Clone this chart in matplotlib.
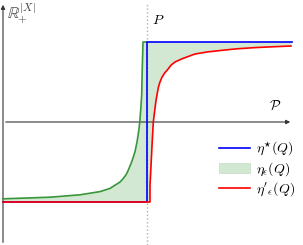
import matplotlib.pyplot as plt
from matplotlib.lines import Line2D
from matplotlib.patches import Patch

plt.rcParams['mathtext.fontset'] = 'cm'

# ---------- Data (x relative to P, y in units of the step height) ----------
green_x = [-144, -120, -97, -67, -57, -47, -37, -32, -27, -24, -21, -19, -16, -14,
           -12, -10, -8.5, -7.2, -6.2, -5.3, -4.8, -4.0, 0.0]
green_y = [-0.96, -0.95, -0.94, -0.91, -0.89, -0.87, -0.83, -0.79, -0.75, -0.71, -0.66,
           -0.61, -0.52, -0.45, -0.37, -0.25, -0.13, 0.0, 0.17, 0.34, 0.65, 1.0, 1.0]

red_x = [-144, 3.0, 3.0, 3.6, 4.3, 5.2, 6.3, 7.8, 9.0, 10.3, 11.5, 13.0, 15.0, 17.5,
         20.3, 24, 28, 35, 48, 60, 78, 90, 108, 125, 144]
red_y = [-1.0, -1.0, -0.79, -0.65, -0.475, -0.25, 0.0, 0.15, 0.27, 0.36, 0.44, 0.5,
         0.56, 0.61, 0.65, 0.71, 0.75, 0.79, 0.85, 0.875, 0.90, 0.915, 0.93, 0.94, 0.95]

blue_x = [-144, 0.0, 0.0, 145]
blue_y = [-1.0, -1.0, 1.0, 1.0]

labels = [r'$\eta^{\star}(Q)$', r'$\eta_{\epsilon}(Q)$', r"$\eta'_{\epsilon}(Q)$"]

# ---------- Plotting ----------
fig = plt.figure(figsize=(3.03, 2.45), dpi=100)
ax = fig.add_axes([0, 0, 1, 1])
ax.set_xlim(-147, 156)
ax.set_ylim(-1.5375, 1.525)
ax.axis('off')

c_green = '#3a963a'
c_fill = '#d3e8d3'

# shaded region between green (top) and red (bottom)
poly_x = green_x + [145] + red_x[::-1]
poly_y = green_y + [1.0] + red_y[::-1]
ax.fill(poly_x, poly_y, color=c_fill, lw=0, zorder=1)

# axes with arrows
ax.annotate('', xy=(-144, 1.5), xytext=(-144, -1.54),
            arrowprops=dict(arrowstyle='-|>', color='#333333', lw=0.8, mutation_scale=6))
ax.annotate('', xy=(146, 0), xytext=(-144, 0),
            arrowprops=dict(arrowstyle='-|>', color='#333333', lw=0.8, mutation_scale=6))

# dotted line at P
ax.plot([-0.5, -0.5], [-1.54, 1.49], ls=':', color='#b0b0b0', lw=1.0, zorder=2)

ax.plot(green_x, green_y, color=c_green, lw=1.2, zorder=3, solid_joinstyle='round')
ax.plot(blue_x, blue_y, color='#0000ff', lw=1.2, zorder=4)
ax.plot(red_x, red_y, color='#ff0000', lw=1.2, zorder=5, solid_joinstyle='round')

# text labels
ax.text(-140, 1.51, r'$\mathbb{R}_{+}^{|X|}$', fontsize=11.5, va='top', ha='left', color='#444444')
ax.text(5, 1.28, r'$P$', fontsize=10, va='center', ha='left')
ax.text(128, 0.2, r'$\mathcal{P}$', fontsize=10, va='center', ha='center')

handles = [Line2D([], [], color='#0000ff', lw=1.2),
           Patch(facecolor=c_fill, edgecolor='#c0dcc0', lw=0.5),
           Line2D([], [], color='#ff0000', lw=1.2)]
ax.legend(handles, labels, loc='center right', bbox_to_anchor=(1.0, 0.31),
          frameon=False, fontsize=10, handlelength=2.2, handletextpad=0.4,
          labelspacing=0.15, borderaxespad=0.2)

fig.savefig('out.png', dpi=100)
